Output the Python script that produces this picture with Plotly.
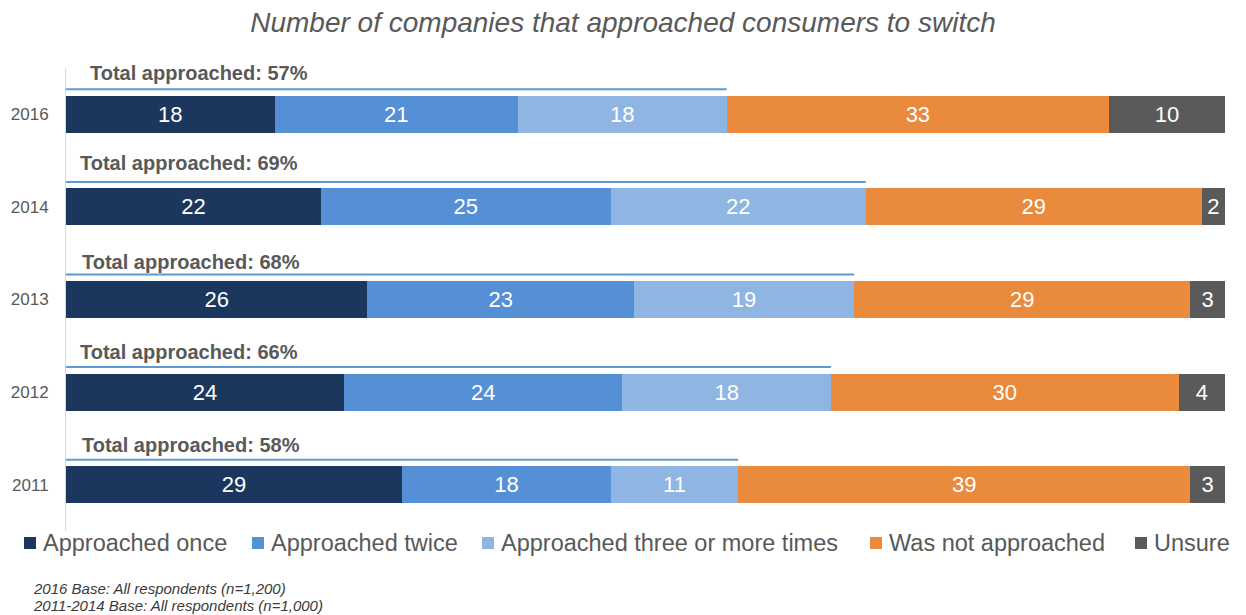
import plotly.graph_objects as go

years = ["2011", "2012", "2013", "2014", "2016"]
series_names = ["Approached once", "Approached twice", "Approached three or more times",
                "Was not approached", "Unsure"]
once = [29, 24, 26, 22, 18]
twice = [18, 24, 23, 25, 21]
three_plus = [11, 18, 19, 22, 18]
not_approached = [39, 30, 29, 29, 33]
unsure = [3, 4, 3, 2, 10]
total_approached = [58, 66, 68, 69, 57]
footnotes = ["2016 Base: All respondents (n=1,200)", "2011-2014 Base: All respondents (n=1,000)"]

colors = ["#1b375e", "#558fd6", "#8fb5e3", "#e98a3c", "#5a5a5a"]
FONT = "Liberation Sans, Arial, sans-serif"
GREY = "#595959"

W, H = 1246, 615
ML, MR, MT, MB = 66, 21, 68, 84
PW, PH = W - ML - MR, H - MT - MB


def px_x(px):
    return (px - ML) / PW


def px_y(py):
    return (H - MB - py) / PH


fig = go.Figure()
for name, vals, col in zip(series_names, [once, twice, three_plus, not_approached, unsure], colors):
    fig.add_trace(go.Bar(
        y=years, x=vals, name=name, orientation="h",
        marker=dict(color=col, line=dict(width=0)),
        text=[str(v) for v in vals], textposition="inside", insidetextanchor="middle",
        textfont=dict(color="white", size=22, family=FONT),
        textangle=0, constraintext="none",
        width=0.4, showlegend=False,
    ))

# label placement (styling only): x offset and vertical offset above each bar
label_x = [1.2, 1.0, 1.2, 1.0, 1.9]
label_dy = [0.43, 0.43, 0.41, 0.47, 0.45]
for i, (yr, tot) in enumerate(zip(years, total_approached)):
    fig.add_shape(type="line", xref="x", yref="y",
                  x0=0, x1=tot, y0=i + 0.27, y1=i + 0.27,
                  line=dict(color="#5b9bd5", width=2))
    fig.add_annotation(x=label_x[i], y=i + label_dy[i], xref="x", yref="y",
                       text=f"<b>Total approached: {tot}%</b>", showarrow=False,
                       xanchor="left", yanchor="middle",
                       font=dict(size=20, color=GREY, family=FONT))

# custom legend (single row like the reference)
legend_px = [24, 252, 482, 870, 1135]
legend_y = 543
for name, col, lx in zip(series_names, colors, legend_px):
    fig.add_shape(type="rect", xref="paper", yref="paper",
                  x0=px_x(lx), x1=px_x(lx + 12), y0=px_y(legend_y + 6), y1=px_y(legend_y - 6),
                  fillcolor=col, line=dict(width=0))
    fig.add_annotation(x=px_x(lx + 17), y=px_y(legend_y), xref="paper", yref="paper",
                       xanchor="left", yanchor="middle", showarrow=False, text=name,
                       font=dict(size=23.5, color=GREY, family=FONT))

for note, ny in zip(footnotes, [588, 605]):
    fig.add_annotation(x=px_x(32), y=px_y(ny), xref="paper", yref="paper",
                       xanchor="left", yanchor="middle", borderpad=0,
                       text=f"<i>{note}</i>", showarrow=False, align="left",
                       font=dict(size=15, color="#3a3a3a", family=FONT))

fig.update_layout(
    width=W, height=H,
    barmode="stack",
    showlegend=False,
    plot_bgcolor="white", paper_bgcolor="white",
    margin=dict(l=ML, r=MR, t=MT, b=MB, autoexpand=False),
    title=dict(text="<i>Number of companies that approached consumers to switch</i>",
               x=0.5, xanchor="center", y=0.964, yanchor="middle",
               font=dict(size=28, color=GREY, family=FONT)),
    xaxis=dict(range=[0, 100], visible=False, fixedrange=True, automargin=False),
    yaxis=dict(showline=True, linecolor="#d9d9d9", linewidth=1, ticks="",
               tickfont=dict(size=17, color=GREY, family=FONT), showgrid=False,
               categoryorder="array", categoryarray=years, ticklabelstandoff=13,
               range=[-0.5, 4.5], automargin=False),
    uniformtext=dict(mode=False),
)

fig.write_html("out.html")
